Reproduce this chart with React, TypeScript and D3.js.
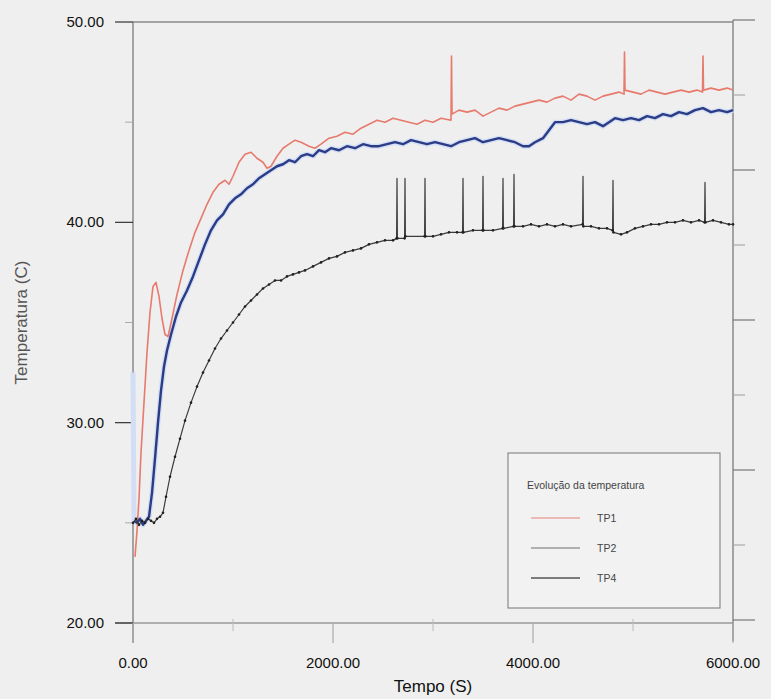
import React from "react";
import * as d3 from "d3";

// TP1 - red trace [tempo, temperatura]
const tp1: [number, number][] = [
  [20, 23.3], [40, 24.6], [60, 26.2], [80, 28.5], [110, 31.0], [140, 33.5], [170, 35.5], [200, 36.8],
  [230, 37.0], [260, 36.3], [290, 35.2], [320, 34.4], [350, 34.3], [390, 35.2], [440, 36.4], [500, 37.6],
  [560, 38.6], [620, 39.5], [680, 40.2], [740, 40.9], [800, 41.5], [860, 41.9], [920, 42.1], [960, 41.9],
  [1000, 42.3], [1060, 43.0], [1120, 43.4], [1180, 43.5], [1240, 43.2], [1300, 43.0], [1340, 42.7], [1380, 42.8],
  [1440, 43.3], [1500, 43.7], [1560, 43.9], [1620, 44.1], [1680, 44.0], [1760, 43.8], [1820, 43.7], [1880, 43.9],
  [1960, 44.2], [2040, 44.3], [2120, 44.5], [2200, 44.4], [2280, 44.7], [2360, 44.9], [2440, 45.1], [2520, 45.0],
  [2600, 45.2], [2680, 45.1], [2760, 45.0], [2840, 44.9], [2920, 45.1], [3000, 45.0], [3080, 45.2], [3180, 45.1],
  [3185, 48.3], [3190, 45.4], [3260, 45.6], [3340, 45.5], [3420, 45.6], [3500, 45.3], [3580, 45.5], [3660, 45.7],
  [3740, 45.6], [3820, 45.8], [3900, 45.9], [3980, 46.0], [4060, 46.1], [4140, 46.0], [4220, 46.2], [4300, 46.3],
  [4380, 46.1], [4460, 46.4], [4540, 46.3], [4620, 46.1], [4700, 46.3], [4780, 46.4], [4860, 46.5], [4910, 46.4],
  [4915, 48.5], [4920, 46.6], [5000, 46.5], [5080, 46.4], [5160, 46.6], [5240, 46.5], [5320, 46.4], [5400, 46.5],
  [5480, 46.6], [5560, 46.5], [5640, 46.6], [5695, 46.5], [5700, 48.3], [5705, 46.6], [5780, 46.7], [5860, 46.6],
  [5940, 46.7], [6000, 46.6],
];

// TP2 - blue trace
const tp2: [number, number][] = [
  [0, 32.5], [10, 25.1], [40, 25.0], [70, 25.2], [100, 24.9], [130, 25.1], [160, 25.3], [190, 26.5],
  [220, 28.2], [250, 30.0], [280, 31.6], [310, 32.8], [340, 33.6], [380, 34.4], [430, 35.3], [480, 36.0],
  [540, 36.6], [600, 37.3], [660, 38.1], [720, 38.9], [780, 39.6], [840, 40.1], [900, 40.4], [960, 40.9],
  [1020, 41.2], [1080, 41.4], [1140, 41.7], [1200, 41.9], [1260, 42.2], [1320, 42.4], [1380, 42.6], [1440, 42.8],
  [1500, 42.9], [1560, 43.1], [1620, 43.0], [1680, 43.3], [1740, 43.4], [1800, 43.3], [1860, 43.6], [1920, 43.5],
  [1980, 43.7], [2060, 43.6], [2140, 43.8], [2220, 43.7], [2300, 43.9], [2380, 43.8], [2460, 43.8], [2540, 43.9],
  [2620, 44.0], [2700, 43.9], [2780, 44.1], [2860, 44.0], [2940, 43.9], [3020, 44.0], [3100, 43.9], [3180, 43.8],
  [3260, 44.0], [3340, 44.1], [3420, 44.2], [3500, 44.0], [3580, 44.1], [3660, 44.2], [3740, 44.1], [3820, 44.0],
  [3900, 43.8], [3960, 43.8], [4020, 44.0], [4100, 44.2], [4160, 44.6], [4220, 45.0], [4300, 45.0], [4380, 45.1],
  [4460, 45.0], [4540, 44.9], [4620, 45.0], [4700, 44.8], [4760, 45.0], [4820, 45.2], [4900, 45.1], [4980, 45.2],
  [5060, 45.1], [5140, 45.3], [5220, 45.2], [5300, 45.4], [5380, 45.3], [5460, 45.5], [5540, 45.4], [5620, 45.6],
  [5700, 45.7], [5780, 45.5], [5860, 45.6], [5940, 45.5], [6000, 45.6],
];

// TP4 - black trace
const tp4: [number, number][] = [
  [0, 25.0], [30, 25.2], [60, 24.9], [90, 25.1], [120, 25.0], [150, 25.2], [180, 25.1], [210, 25.0],
  [240, 25.2], [270, 25.3], [300, 25.5], [330, 26.3], [370, 27.3], [420, 28.3], [470, 29.2], [520, 30.1],
  [580, 31.0], [640, 31.8], [700, 32.5], [760, 33.1], [820, 33.7], [880, 34.2], [940, 34.6], [1000, 35.0],
  [1060, 35.4], [1120, 35.8], [1180, 36.1], [1240, 36.4], [1300, 36.7], [1360, 36.9], [1420, 37.1], [1480, 37.1],
  [1540, 37.3], [1600, 37.4], [1660, 37.5], [1720, 37.6], [1800, 37.8], [1880, 38.0], [1960, 38.2], [2040, 38.3],
  [2120, 38.5], [2200, 38.6], [2280, 38.7], [2360, 38.9], [2440, 39.0], [2520, 39.1], [2600, 39.1], [2636, 39.2],
  [2640, 42.2], [2644, 39.2], [2716, 39.2], [2720, 42.2], [2724, 39.3], [2916, 39.3], [2920, 42.2], [2924, 39.3],
  [3000, 39.3], [3080, 39.4], [3160, 39.5], [3240, 39.5], [3296, 39.5], [3300, 42.2], [3304, 39.5], [3400, 39.6],
  [3496, 39.6], [3500, 42.3], [3504, 39.6], [3600, 39.6], [3696, 39.7], [3700, 42.2], [3704, 39.7], [3806, 39.8],
  [3810, 42.4], [3814, 39.8], [3900, 39.8], [3980, 39.9], [4060, 39.8], [4140, 39.9], [4220, 39.8], [4300, 39.9],
  [4380, 39.8], [4496, 39.9], [4500, 42.3], [4504, 39.8], [4580, 39.8], [4660, 39.7], [4740, 39.7], [4796, 39.6],
  [4800, 42.1], [4804, 39.5], [4880, 39.4], [4940, 39.5], [5020, 39.7], [5100, 39.8], [5180, 39.9], [5260, 39.9],
  [5340, 40.0], [5420, 40.0], [5500, 40.1], [5580, 40.0], [5660, 40.1], [5716, 40.0], [5720, 42.0], [5724, 40.0],
  [5800, 40.1], [5880, 40.0], [5960, 39.9], [6000, 39.9],
];

const xTicks = [0, 2000, 4000, 6000];
const xMinor = [1000, 3000, 5000];
const yTicks = [20, 30, 40, 50];
const yMinor = [25, 35, 45];
const legendNames = ["TP1", "TP2", "TP4"];
const legendTitle = "Evolução da temperatura";

const W = 771;
const H = 699;
const x = d3.scaleLinear().domain([0, 6000]).range([133, 733]);
const y = d3.scaleLinear().domain([20, 50]).range([623, 22]);
// secondary scale on the right border (unlabelled)
const yRight = d3.scaleLinear().domain([0, 8]).range([620, 20]);

const line = d3
  .line<[number, number]>()
  .x((d) => x(d[0]))
  .y((d) => y(d[1]));

const font = "'Liberation Sans', Arial, sans-serif";

export default function App() {
  const fmt = d3.format(".2f");
  const legendColors = ["#e9a7a0", "#9a9a9a", "#555555"];
  return (
    <svg
      width={W}
      height={H}
      style={{ position: "absolute", left: 0, top: 0, background: "#efefef" }}
      fontFamily={font}
    >
      <rect width={W} height={H} fill="#efefef" />

      {/* frame */}
      <line x1={x(0)} x2={x(6000)} y1={y(50)} y2={y(50)} stroke="#8a8a8a" strokeWidth={1.5} />
      <line x1={x(0)} x2={x(0)} y1={y(50)} y2={643} stroke="#8a8a8a" strokeWidth={1.5} />
      <line x1={115} x2={x(6000)} y1={y(20)} y2={y(20)} stroke="#9a9a9a" strokeWidth={1.5} />
      <line x1={x(6000)} x2={x(6000)} y1={20} y2={641} stroke="#8a8a8a" strokeWidth={1.5} />

      {/* left ticks */}
      {yTicks.map((t) => (
        <g key={"yt" + t}>
          <line x1={115} x2={x(0)} y1={y(t)} y2={y(t)} stroke="#333" strokeWidth={1.2} />
          <text x={104} y={y(t) + 5} textAnchor="end" fontSize={15} fill="#111">
            {fmt(t)}
          </text>
        </g>
      ))}
      {yMinor.map((t) => (
        <line key={"ym" + t} x1={125} x2={x(0)} y1={y(t)} y2={y(t)} stroke="#aaa" strokeWidth={1} />
      ))}

      {/* right ticks */}
      {d3.range(0, 9).map((t) => (
        <line
          key={"yr" + t}
          x1={x(6000)}
          x2={t % 2 === 0 ? 755 : 745}
          y1={yRight(t)}
          y2={yRight(t)}
          stroke={t % 2 === 0 ? "#777" : "#aaa"}
          strokeWidth={1.2}
        />
      ))}

      {/* bottom ticks */}
      {xTicks.map((t) => (
        <g key={"xt" + t}>
          <line x1={x(t)} x2={x(t)} y1={y(20)} y2={643} stroke="#aaa" strokeWidth={1.2} />
          <text x={x(t)} y={668} textAnchor="middle" fontSize={15} fill="#111">
            {fmt(t)}
          </text>
        </g>
      ))}
      {xMinor.map((t) => (
        <line key={"xm" + t} x1={x(t)} x2={x(t)} y1={619} y2={631} stroke="#bbb" strokeWidth={1} />
      ))}

      {/* series */}
      <path d={line(tp2) || ""} fill="none" stroke="#d2def3" strokeWidth={5} strokeLinejoin="round" />
      <path d={line(tp1) || ""} fill="none" stroke="#e77a6c" strokeWidth={1.6} strokeLinejoin="round" />
      <path d={line(tp2.slice(1)) || ""} fill="none" stroke="#2c3b86" strokeWidth={2.4} strokeLinejoin="round" />
      <path d={line(tp4) || ""} fill="none" stroke="#3c3c3c" strokeWidth={1.2} strokeLinejoin="round" />
      {tp4
        .filter((d) => d[1] < 41)
        .map((d, i) => (
          <circle key={"p" + i} cx={x(d[0])} cy={y(d[1])} r={1.3} fill="#222" />
        ))}

      {/* legend */}
      <rect x={508} y={453} width={212} height={155} fill="#f2f2f2" stroke="#8a8a8a" strokeWidth={1.2} />
      <text x={527} y={489} fontSize={10.5} fill="#444">
        {legendTitle}
      </text>
      {legendNames.map((n, i) => (
        <g key={n}>
          <line x1={531} x2={580} y1={518 + i * 30} y2={518 + i * 30} stroke={legendColors[i]} strokeWidth={1.3} />
          <text x={597} y={522 + i * 30} fontSize={10.5} fill="#444">
            {n}
          </text>
        </g>
      ))}

      {/* axis titles */}
      <text x={433} y={692} textAnchor="middle" fontSize={17} fill="#111">
        Tempo (S)
      </text>
      <text
        transform={`translate(27, ${y(35)}) rotate(-90)`}
        textAnchor="middle"
        fontSize={17}
        fill="#555"
      >
        Temperatura (C)
      </text>
    </svg>
  );
}
